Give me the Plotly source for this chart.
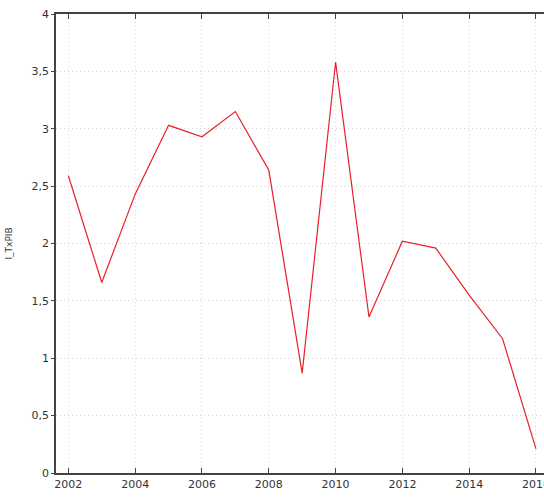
import plotly.graph_objects as go

years = [2002, 2003, 2004, 2005, 2006, 2007, 2008, 2009, 2010, 2011, 2012, 2013, 2014, 2015, 2016]
i_txpib = [2.59, 1.66, 2.43, 3.03, 2.93, 3.15, 2.64, 0.87, 3.58, 1.36, 2.02, 1.96, 1.55, 1.17, 0.21]
x_ticks = [2002, 2004, 2006, 2008, 2010, 2012, 2014, 2016]
y_ticks = [0, 0.5, 1, 1.5, 2, 2.5, 3, 3.5, 4]

fig = go.Figure()
fig.add_trace(go.Scatter(x=years, y=i_txpib, mode="lines",
                         line=dict(color="#e8202a", width=1.2), showlegend=False,
                         cliponaxis=False))

fig.update_layout(
    width=544, height=498,
    margin=dict(l=56, r=0, t=14, b=25, autoexpand=False),
    paper_bgcolor="white", plot_bgcolor="white",
    separators=", ",
    font=dict(family="DejaVu Sans", size=11, color="#333"),
)
fig.update_xaxes(range=[2001.63, 2016.24], tickvals=x_ticks, ticktext=[str(v) for v in x_ticks],
                 automargin=False, ticklabeloverflow="allow",
                 showline=True, linecolor="#444", linewidth=1.5, mirror="ticks",
                 ticks="inside", ticklen=5, tickcolor="#444",
                 showgrid=True, gridcolor="#d4d4d4", griddash="1px,3px", gridwidth=1,
                 zeroline=False, tickfont=dict(size=11))
fig.update_yaxes(range=[0, 4], tickvals=y_ticks, automargin=False, ticklabeloverflow="allow",
                 showline=True, linecolor="#444", linewidth=1.5,
                 ticks="outside", ticklen=3, tickcolor="#444",
                 showgrid=True, gridcolor="#d4d4d4", griddash="1px,3px", gridwidth=1,
                 zeroline=False, tickfont=dict(size=11),
                 title=dict(text="I_TxPIB", font=dict(size=9), standoff=17))

fig.write_html("out.html", config={"displayModeBar": False},
               post_script="document.body.style.margin='0';document.documentElement.style.overflow='hidden';")
